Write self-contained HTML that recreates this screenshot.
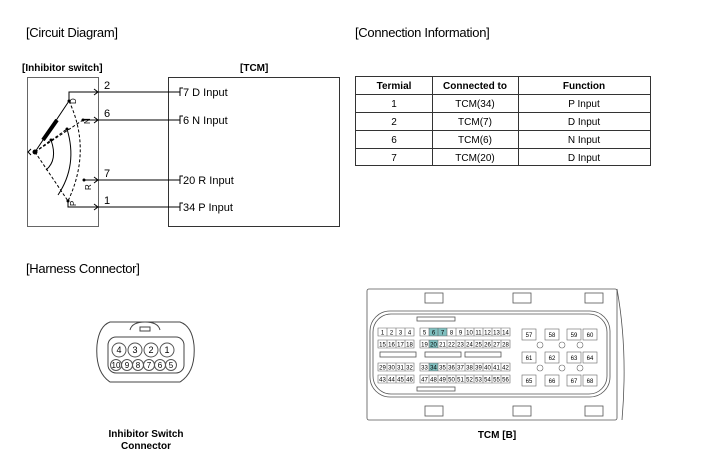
<!DOCTYPE html>
<html><head><meta charset="utf-8"><style>
body{margin:0;background:#fff;}
svg{display:block;font-family:"Liberation Sans",sans-serif;}
</style></head><body>
<svg width="701" height="475" viewBox="0 0 701 475" xmlns="http://www.w3.org/2000/svg">
<g font-size="13" fill="#000" letter-spacing="-0.3">
<text x="26" y="37">[Circuit Diagram]</text>
<text x="355" y="37">[Connection Information]</text>
<text x="26" y="273">[Harness Connector]</text>
</g>
<!-- circuit -->
<text x="22" y="71" font-size="10" font-weight="bold">[Inhibitor switch]</text>
<text x="240" y="71" font-size="10" font-weight="bold">[TCM]</text>
<rect x="27.5" y="77.5" width="71" height="149" fill="none" stroke="#666"/>
<rect x="168.5" y="77.5" width="171" height="149" fill="none" stroke="#333"/>
<g stroke="#000" fill="none" stroke-width="1">
<polyline points="69,101 69,92 180,92"/>
<line x1="83" y1="120" x2="180" y2="120"/>
<line x1="84" y1="180" x2="180" y2="180"/>
<polyline points="68,201 68,207 180,207"/>
<path d="M94,89 l4,3 l-4,3 M94,117 l4,3 l-4,3 M94,177 l4,3 l-4,3 M94,204 l4,3 l-4,3"/>
<path d="M183,88 h-3 v8 M183,116 h-3 v8 M183,176 h-3 v8 M183,203 h-3 v8"/>
<line x1="35" y1="152" x2="69" y2="101"/>
<path d="M35,152 L83,120 M35,152 L68,201" stroke-dasharray="3,2"/>
<path d="M35,152 L67,129 M35,152 L51,140" stroke-dasharray="3,2"/>
<path d="M69,101 Q92,150 68,201" stroke-dasharray="3,2"/>
<path d="M67,129 Q78,165 58,195"/>
<path d="M51,140 Q58,160 46,170"/>
<path d="M31,149 l-3,3 l3,3"/>
</g>
<line x1="43" y1="140" x2="57" y2="120" stroke="#000" stroke-width="4"/>
<g fill="#000">
<circle cx="35" cy="152" r="2.5"/><circle cx="69" cy="101" r="1.5"/><circle cx="83" cy="120" r="1.5"/>
<circle cx="84" cy="180" r="1.5"/><circle cx="68" cy="201" r="1.5"/><circle cx="67" cy="129" r="1.5"/><circle cx="51" cy="140" r="1.5"/>
</g>
<g font-size="8" fill="#000">
<text transform="translate(76,104) rotate(-90)">D</text>
<text transform="translate(90,124) rotate(-90)">N</text>
<text transform="translate(91,190) rotate(-90)">R</text>
<text transform="translate(76,206) rotate(-90)">P</text>
</g>
<g font-size="11" fill="#000">
<text x="104" y="89">2</text><text x="104" y="117">6</text><text x="104" y="177">7</text><text x="104" y="204">1</text>
<text x="183" y="96">7  D Input</text><text x="183" y="124">6  N Input</text>
<text x="183" y="184">20  R Input</text><text x="183" y="211">34  P Input</text>
</g>
<!-- table -->
<g stroke="#333" fill="none">
<rect x="355.5" y="76.5" width="295" height="89"/>
<line x1="356" y1="94.5" x2="650" y2="94.5"/><line x1="356" y1="112.5" x2="650" y2="112.5"/>
<line x1="356" y1="130.5" x2="650" y2="130.5"/><line x1="356" y1="148.5" x2="650" y2="148.5"/>
<line x1="432.5" y1="77" x2="432.5" y2="165"/><line x1="518.5" y1="77" x2="518.5" y2="165"/>
</g>
<g font-size="10" text-anchor="middle" fill="#000">
<g font-weight="bold"><text x="394" y="89">Termial</text><text x="475" y="89">Connected to</text><text x="584" y="89">Function</text></g>
<text x="394" y="107">1</text><text x="475" y="107">TCM(34)</text><text x="584" y="107">P Input</text>
<text x="394" y="125">2</text><text x="475" y="125">TCM(7)</text><text x="584" y="125">D Input</text>
<text x="394" y="143">6</text><text x="475" y="143">TCM(6)</text><text x="584" y="143">N Input</text>
<text x="394" y="161">7</text><text x="475" y="161">TCM(20)</text><text x="584" y="161">D Input</text>
</g>
<!-- small connector -->
<g stroke="#444" fill="none">
<path d="M110,322 L180,322 Q192,326 194,345 Q196,372 180,382 L110,382 Q95,372 97,345 Q99,326 110,322 Z"/>
<path d="M130,330 Q132,322 145,322 Q158,322 160,330 M140,327 h10 v4 h-10z"/>
<rect x="108" y="337" width="76" height="36" rx="8"/>
</g>
<g stroke="#555" fill="#fff">
<circle cx="119" cy="350" r="7"/><circle cx="135" cy="350" r="7"/><circle cx="151" cy="350" r="7"/><circle cx="167" cy="350" r="7"/>
<circle cx="116" cy="365" r="5.5"/><circle cx="127" cy="365" r="5.5"/><circle cx="138" cy="365" r="5.5"/><circle cx="149" cy="365" r="5.5"/><circle cx="160" cy="365" r="5.5"/><circle cx="171" cy="365" r="5.5"/>
</g>
<g font-size="9" text-anchor="middle" fill="#000">
<text x="119" y="353">4</text><text x="135" y="353">3</text><text x="151" y="353">2</text><text x="167" y="353">1</text>
<g font-size="8"><text x="116" y="368">10</text><text x="127" y="368">9</text><text x="138" y="368">8</text><text x="149" y="368">7</text><text x="160" y="368">6</text><text x="171" y="368">5</text></g>
</g>
<text x="146" y="437" font-size="10" font-weight="bold" text-anchor="middle">Inhibitor Switch</text>
<text x="146" y="449" font-size="10" font-weight="bold" text-anchor="middle">Connector</text>
<!-- TCM connector -->
<g stroke="#555" fill="none" stroke-width="0.8">
<rect x="367" y="289" width="250" height="131" rx="2"/>
<path d="M617,289 Q628,350 622,420"/>
<rect x="370" y="311" width="240" height="86" rx="20"/>
<rect x="373" y="314" width="234" height="80" rx="18"/>
<rect x="425" y="293" width="18" height="10"/><rect x="513" y="293" width="18" height="10"/><rect x="585" y="293" width="18" height="10"/>
<rect x="425" y="406" width="18" height="10"/><rect x="513" y="406" width="18" height="10"/><rect x="585" y="406" width="18" height="10"/>
<rect x="380" y="352" width="36" height="5"/><rect x="425" y="352" width="36" height="5"/><rect x="465" y="352" width="36" height="5"/>
<rect x="417" y="317" width="38" height="4"/><rect x="417" y="387" width="38" height="4"/>
</g>
<g fill="#7fbfbf">
<rect x="429" y="328" width="9" height="8"/><rect x="438" y="328" width="9" height="8"/>
<rect x="429" y="340" width="9" height="8"/><rect x="429" y="363" width="9" height="8"/>
</g>
<g stroke="#666" stroke-width="0.6" fill="none">
<path d="M378,328h36v8h-36zM378,340h36v8h-36zM378,363h36v8h-36zM378,375h36v8h-36z"/>
<path d="M387,328v8M396,328v8M405,328v8M387,340v8M396,340v8M405,340v8M387,363v8M396,363v8M405,363v8M387,375v8M396,375v8M405,375v8"/>
<path d="M420,328h90v8h-90zM420,340h90v8h-90zM420,363h90v8h-90zM420,375h90v8h-90z"/>
<path d="M429,328v8M438,328v8M447,328v8M456,328v8M465,328v8M474,328v8M483,328v8M492,328v8M501,328v8"/>
<path d="M429,340v8M438,340v8M447,340v8M456,340v8M465,340v8M474,340v8M483,340v8M492,340v8M501,340v8"/>
<path d="M429,363v8M438,363v8M447,363v8M456,363v8M465,363v8M474,363v8M483,363v8M492,363v8M501,363v8"/>
<path d="M429,375v8M438,375v8M447,375v8M456,375v8M465,375v8M474,375v8M483,375v8M492,375v8M501,375v8"/>
<rect x="522" y="329" width="14" height="11"/><rect x="545" y="329" width="14" height="11"/><rect x="567" y="329" width="14" height="11"/><rect x="583" y="329" width="14" height="11"/>
<rect x="522" y="352" width="14" height="11"/><rect x="545" y="352" width="14" height="11"/><rect x="567" y="352" width="14" height="11"/><rect x="583" y="352" width="14" height="11"/>
<rect x="522" y="375" width="14" height="11"/><rect x="545" y="375" width="14" height="11"/><rect x="567" y="375" width="14" height="11"/><rect x="583" y="375" width="14" height="11"/>
<circle cx="540" cy="345" r="3"/><circle cx="562" cy="345" r="3"/><circle cx="580" cy="345" r="3"/>
<circle cx="540" cy="368" r="3"/><circle cx="562" cy="368" r="3"/><circle cx="580" cy="368" r="3"/>
</g>
<g font-size="6" text-anchor="middle" fill="#000">
<text x="382.5" y="334.5">1</text><text x="391.5" y="334.5">2</text><text x="400.5" y="334.5">3</text><text x="409.5" y="334.5">4</text>
<text x="424.5" y="334.5">5</text><text x="433.5" y="334.5">6</text><text x="442.5" y="334.5">7</text><text x="451.5" y="334.5">8</text><text x="460.5" y="334.5">9</text><text x="469.5" y="334.5">10</text><text x="478.5" y="334.5">11</text><text x="487.5" y="334.5">12</text><text x="496.5" y="334.5">13</text><text x="505.5" y="334.5">14</text>
<text x="382.5" y="346.5">15</text><text x="391.5" y="346.5">16</text><text x="400.5" y="346.5">17</text><text x="409.5" y="346.5">18</text>
<text x="424.5" y="346.5">19</text><text x="433.5" y="346.5">20</text><text x="442.5" y="346.5">21</text><text x="451.5" y="346.5">22</text><text x="460.5" y="346.5">23</text><text x="469.5" y="346.5">24</text><text x="478.5" y="346.5">25</text><text x="487.5" y="346.5">26</text><text x="496.5" y="346.5">27</text><text x="505.5" y="346.5">28</text>
<text x="382.5" y="369.5">29</text><text x="391.5" y="369.5">30</text><text x="400.5" y="369.5">31</text><text x="409.5" y="369.5">32</text>
<text x="424.5" y="369.5">33</text><text x="433.5" y="369.5">34</text><text x="442.5" y="369.5">35</text><text x="451.5" y="369.5">36</text><text x="460.5" y="369.5">37</text><text x="469.5" y="369.5">38</text><text x="478.5" y="369.5">39</text><text x="487.5" y="369.5">40</text><text x="496.5" y="369.5">41</text><text x="505.5" y="369.5">42</text>
<text x="382.5" y="381.5">43</text><text x="391.5" y="381.5">44</text><text x="400.5" y="381.5">45</text><text x="409.5" y="381.5">46</text>
<text x="424.5" y="381.5">47</text><text x="433.5" y="381.5">48</text><text x="442.5" y="381.5">49</text><text x="451.5" y="381.5">50</text><text x="460.5" y="381.5">51</text><text x="469.5" y="381.5">52</text><text x="478.5" y="381.5">53</text><text x="487.5" y="381.5">54</text><text x="496.5" y="381.5">55</text><text x="505.5" y="381.5">56</text>
<text x="529" y="337">57</text><text x="552" y="337">58</text><text x="574" y="337">59</text><text x="590" y="337">60</text>
<text x="529" y="360">61</text><text x="552" y="360">62</text><text x="574" y="360">63</text><text x="590" y="360">64</text>
<text x="529" y="383">65</text><text x="552" y="383">66</text><text x="574" y="383">67</text><text x="590" y="383">68</text>
</g>
<text x="497" y="438" font-size="10" font-weight="bold" text-anchor="middle">TCM [B]</text>
</svg>
</body></html>
